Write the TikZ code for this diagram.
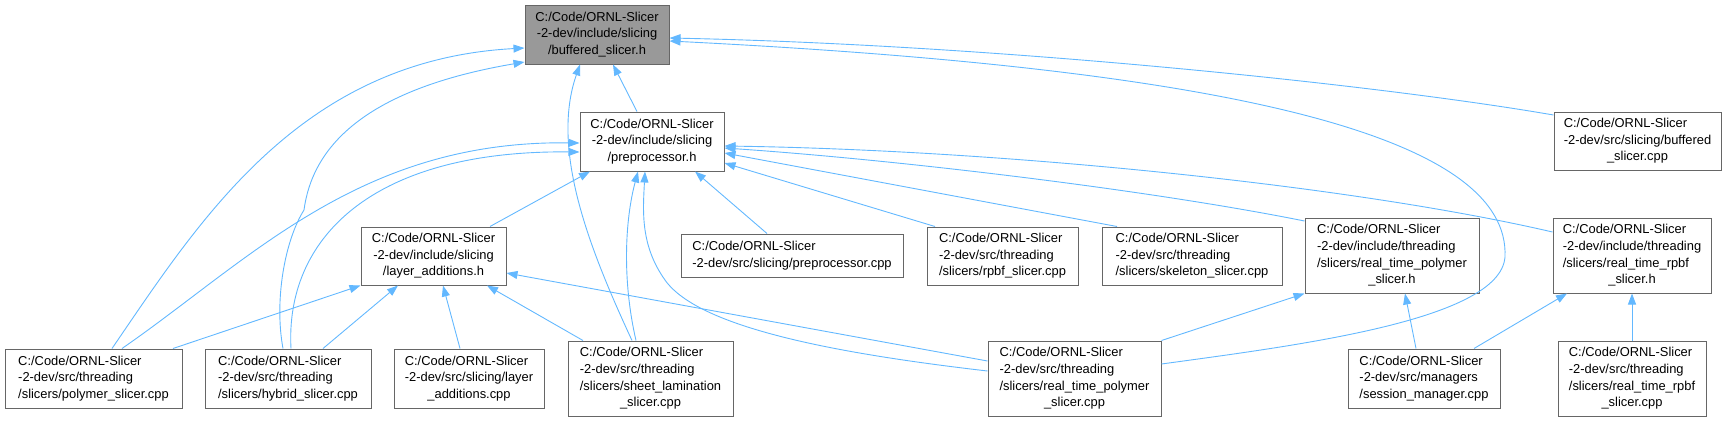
\documentclass[tikz,border=0pt]{standalone}
\usepackage{fontspec}
\setmainfont{Liberation Sans}
\usepackage{xcolor}
\usetikzlibrary{arrows.meta}
\definecolor{edgeblue}{HTML}{63B8FF}
\definecolor{boxline}{HTML}{666666}
\definecolor{curfill}{HTML}{999999}
\newcommand{\lastline}[1]{\multicolumn{1}{@{}c@{}}{#1}}

\begin{document}
\begin{tikzpicture}[x=1pt, y=-1pt, >={Triangle[length=11pt, width=8pt]}, font=\fontsize{12.9}{16.6}\selectfont]
\tikzset{
    file/.style={draw=boxline, line width=1pt, fill=white, inner sep=0pt, minimum height=59pt},
    current/.style={file, fill=curfill},
    incl/.style={->, edgeblue, line width=0.9pt},
}
\useasboundingbox (0,0) rectangle (1727,421);
% Headers
\node[current, minimum width=144pt] (bsh) at (597,34.5) {\begin{tabular}{@{}c@{}}C:/Code/ORNL-Slicer\\-2-dev/include/slicing\\/buffered\_slicer.h\end{tabular}};
\node[file, minimum width=144pt] (pph) at (652,141.5) {\begin{tabular}{@{}c@{}}C:/Code/ORNL-Slicer\\-2-dev/include/slicing\\/preprocessor.h\end{tabular}};
\node[file, minimum width=145pt, minimum height=58pt] (lah) at (433.5,256) {\begin{tabular}{@{}c@{}}C:/Code/ORNL-Slicer\\-2-dev/include/slicing\\/layer\_additions.h\end{tabular}};
\node[file, minimum width=174pt, minimum height=75pt] (rtph) at (1392,255.5) {\begin{tabular}{@{}l@{}}C:/Code/ORNL-Slicer\\-2-dev/include/threading\\/slicers/real\_time\_polymer\\\lastline{\_slicer.h}\end{tabular}};
\node[file, minimum width=158pt, minimum height=75pt] (rtrh) at (1632,255.5) {\begin{tabular}{@{}l@{}}C:/Code/ORNL-Slicer\\-2-dev/include/threading\\/slicers/real\_time\_rpbf\\\lastline{\_slicer.h}\end{tabular}};
% Sources
\node[file, minimum width=167pt, minimum height=58pt] (bscpp) at (1637.5,141) {\begin{tabular}{@{}l@{}}C:/Code/ORNL-Slicer\\-2-dev/src/slicing/buffered\\\lastline{\_slicer.cpp}\end{tabular}};
\node[file, minimum width=222pt, minimum height=43pt] (ppcpp) at (792,255.5) {\begin{tabular}{@{}l@{}}C:/Code/ORNL-Slicer\\-2-dev/src/slicing/preprocessor.cpp\end{tabular}};
\node[file, minimum width=151pt, minimum height=58pt] (rpbf) at (1002.5,256) {\begin{tabular}{@{}l@{}}C:/Code/ORNL-Slicer\\-2-dev/src/threading\\/slicers/rpbf\_slicer.cpp\end{tabular}};
\node[file, minimum width=180pt, minimum height=58pt] (skel) at (1192,256) {\begin{tabular}{@{}l@{}}C:/Code/ORNL-Slicer\\-2-dev/src/threading\\/slicers/skeleton\_slicer.cpp\end{tabular}};
\node[file, minimum width=177pt] (poly) at (93.5,378.5) {\begin{tabular}{@{}l@{}}C:/Code/ORNL-Slicer\\-2-dev/src/threading\\/slicers/polymer\_slicer.cpp\end{tabular}};
\node[file, minimum width=166pt] (hyb) at (288,378.5) {\begin{tabular}{@{}l@{}}C:/Code/ORNL-Slicer\\-2-dev/src/threading\\/slicers/hybrid\_slicer.cpp\end{tabular}};
\node[file, minimum width=150pt] (lacpp) at (469,378.5) {\begin{tabular}{@{}l@{}}C:/Code/ORNL-Slicer\\-2-dev/src/slicing/layer\\\lastline{\_additions.cpp}\end{tabular}};
\node[file, minimum width=165pt, minimum height=75pt] (sheet) at (650.5,378.5) {\begin{tabular}{@{}l@{}}C:/Code/ORNL-Slicer\\-2-dev/src/threading\\/slicers/sheet\_lamination\\\lastline{\_slicer.cpp}\end{tabular}};
\node[file, minimum width=173pt, minimum height=75pt] (rtpcpp) at (1074.5,378.5) {\begin{tabular}{@{}l@{}}C:/Code/ORNL-Slicer\\-2-dev/src/threading\\/slicers/real\_time\_polymer\\\lastline{\_slicer.cpp}\end{tabular}};
\node[file, minimum width=152pt] (sess) at (1424,378.5) {\begin{tabular}{@{}l@{}}C:/Code/ORNL-Slicer\\-2-dev/src/managers\\/session\_manager.cpp\end{tabular}};
\node[file, minimum width=148pt, minimum height=75pt] (rtrcpp) at (1632,378.5) {\begin{tabular}{@{}l@{}}C:/Code/ORNL-Slicer\\-2-dev/src/threading\\/slicers/real\_time\_rpbf\\\lastline{\_slicer.cpp}\end{tabular}};
% Includes of buffered_slicer.h
\draw[incl] ([xshift=-15pt]pph.north) -- ([xshift=16pt]bsh.south);
\draw[incl] ([xshift=18.5pt]poly.north) .. controls (200,220) and (300,60) .. ([yshift=-13.5pt]bsh.west);
\draw[incl] ([xshift=-5pt]hyb.north) .. controls (274,300) and (285,240) .. (304,210) .. controls (312,150) and (360,90) .. ([yshift=-27.5pt]bsh.west);
\draw[incl] ([xshift=-18.5pt]sheet.north) .. controls (590,250) and (550,150) .. ([xshift=-17pt]bsh.south);
\draw[incl] ([yshift=26pt]bscpp.west) .. controls (1380,85) and (1000,45) .. ([yshift=-3.5pt]bsh.east);
\draw[incl] ([yshift=14.5pt]rtpcpp.east) .. controls (1300,345) and (1500,320) .. (1505,257) .. controls (1510,140) and (1250,70) .. ([yshift=-6.5pt]bsh.east);
% Includes of preprocessor.h
\draw[incl] ([xshift=56.5pt]lah.north) -- ([xshift=-62pt]pph.south);
\draw[incl] ([xshift=-25pt]ppcpp.north) -- ([xshift=43pt]pph.south);
\draw[incl] ([xshift=-67.5pt]rpbf.north) -- ([yshift=-21.5pt]pph.east);
\draw[incl] ([xshift=-75pt]skel.north) -- ([yshift=-11.5pt]pph.east);
\draw[incl] ([yshift=34.5pt]rtph.west) .. controls (1150,190) and (900,160) .. ([yshift=-6.5pt]pph.east);
\draw[incl] ([yshift=23.5pt]rtrh.west) .. controls (1350,185) and (1000,150) .. ([yshift=-4.5pt]pph.east);
\draw[incl] ([xshift=28.5pt]poly.north) .. controls (250,260) and (360,140) .. ([yshift=-1.5pt]pph.west);
\draw[incl] ([xshift=3pt]hyb.north) .. controls (285,240) and (370,150) .. ([yshift=-10.5pt]pph.west);
\draw[incl] ([xshift=-14.5pt]sheet.north) .. controls (622,280) and (625,220) .. ([xshift=-14pt]pph.south);
\draw[incl] ([yshift=7.5pt]rtpcpp.west) .. controls (850,355) and (700,330) .. (665,280) .. controls (640,245) and (643,210) .. ([xshift=-7pt]pph.south);
% Includes of layer_additions.h
\draw[incl] ([xshift=79.5pt]poly.north) -- (lah.south west);
\draw[incl] ([xshift=35pt]hyb.north) -- ([xshift=-35.5pt]lah.south);
\draw[incl] ([xshift=-9pt]lacpp.north) -- ([xshift=9.5pt]lah.south);
\draw[incl] ([xshift=-67.5pt]sheet.north) -- ([xshift=53.5pt]lah.south);
\draw[incl] ([yshift=17.5pt]rtpcpp.west) -- ([yshift=-17pt]lah.east);
% Includes of the real time headers
\draw[incl] (rtpcpp.north east) -- (rtph.south west);
\draw[incl] ([xshift=-8pt]sess.north) -- ([xshift=13pt]rtph.south);
\draw[incl] ([xshift=50pt]sess.north) -- ([xshift=-65pt]rtrh.south);
\draw[incl] (rtrcpp.north) -- (rtrh.south);
\end{tikzpicture}
\end{document}
